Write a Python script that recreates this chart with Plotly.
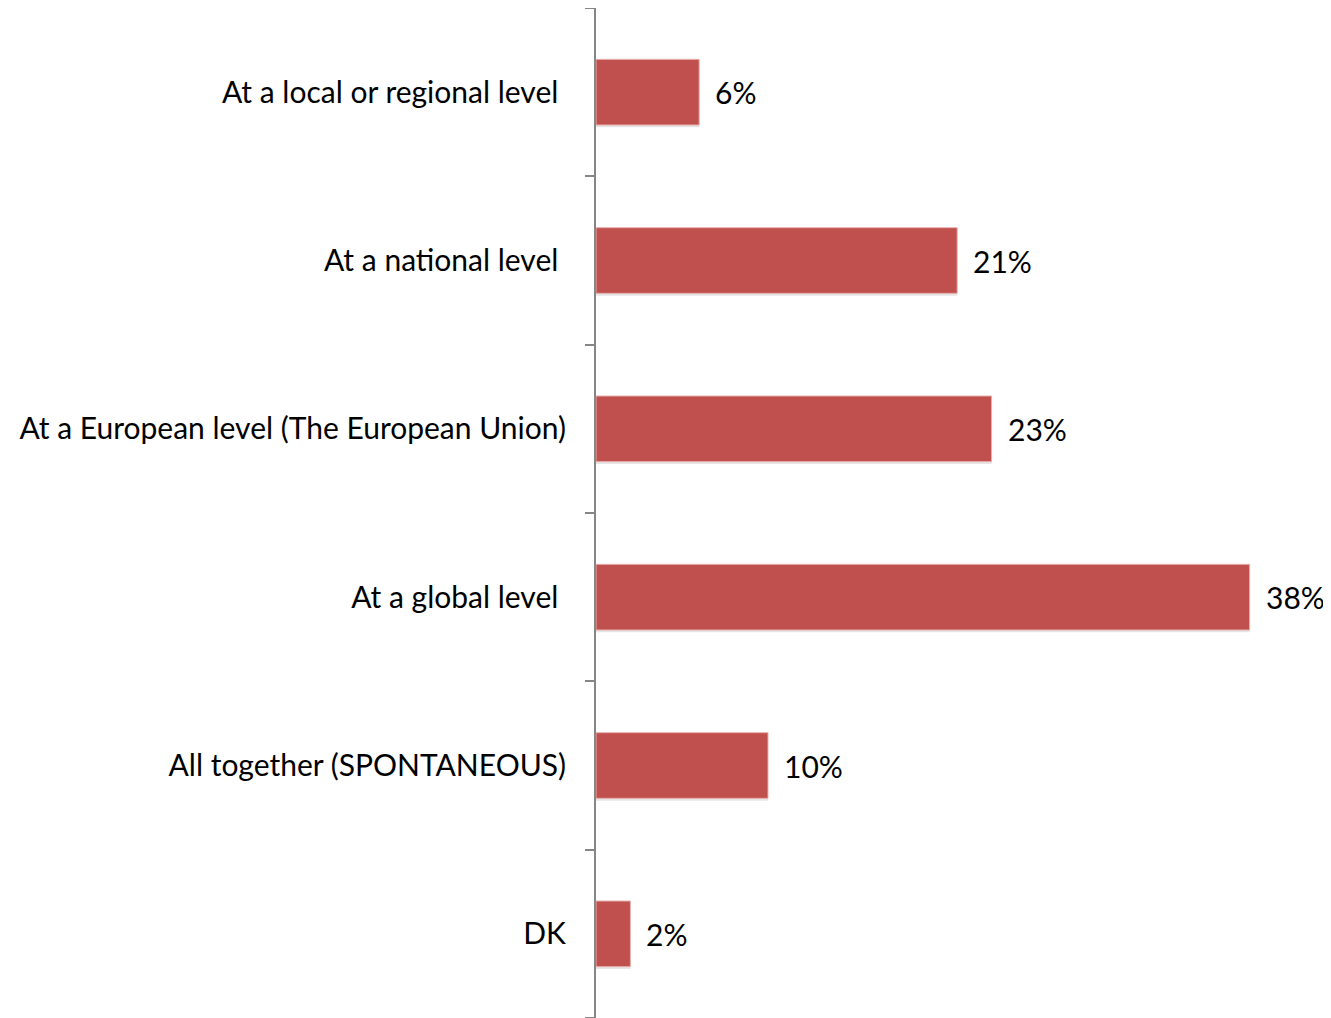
import plotly.graph_objects as go

categories = [
    "At a local or regional level",
    "At a national level",
    "At a European level (The European Union)",
    "At a global level",
    "All together (SPONTANEOUS)",
    "DK",
]
values = [6, 21, 23, 38, 10, 2]
value_labels = [f"{v}%" for v in values]
# trailing padding as in the original labels
tick_labels = [
    "At a local or regional level\u00a0",
    "At a national level\u00a0",
    "At a European level (The European Union)",
    "At a global level\u00a0",
    "All together (SPONTANEOUS)",
    "DK",
]

BAR_COLOR = "#C0504D"
AXIS_COLOR = "#868686"
FONT = "Lato, 'Open Sans', sans-serif"
FS = 30

fig = go.Figure()

# subtle shadow
fig.add_trace(go.Bar(
    x=values, y=categories, orientation="h",
    marker=dict(color="rgba(0,0,0,0.10)", line=dict(width=0)),
    width=0.39, offset=-0.195 + 0.014,
    hoverinfo="skip", showlegend=False,
))
fig.add_trace(go.Bar(
    x=values, y=categories, orientation="h",
    marker=dict(color=BAR_COLOR, line=dict(color="#E8B0AE", width=1)),
    width=0.39, offset=-0.195,
    showlegend=False,
))

for c, v, t in zip(categories, values, value_labels):
    fig.add_annotation(
        x=v, y=c, text=t, showarrow=False, xanchor="left", yanchor="middle",
        xshift=14, font=dict(family=FONT, size=FS, color="black"),
    )

fig.update_layout(
    width=1323, height=1010,
    margin=dict(l=588, r=4, t=0, b=0),
    paper_bgcolor="white", plot_bgcolor="white",
    barmode="overlay",
    font=dict(family=FONT, size=FS, color="black"),
    xaxis=dict(range=[0, 42.5], visible=False, fixedrange=True),
    yaxis=dict(
        type="category", categoryorder="array", categoryarray=categories,
        tickmode="array", tickvals=categories, ticktext=tick_labels,
        autorange="reversed",
        showline=True, linecolor=AXIS_COLOR, linewidth=2,
        ticks="outside", ticklen=9, tickcolor=AXIS_COLOR, tickwidth=2,
        tickson="boundaries", showgrid=False, zeroline=False,
        ticklabelstandoff=22,
        tickfont=dict(family=FONT, size=FS, color="black"),
    ),
)

fig.write_html("out.html")
